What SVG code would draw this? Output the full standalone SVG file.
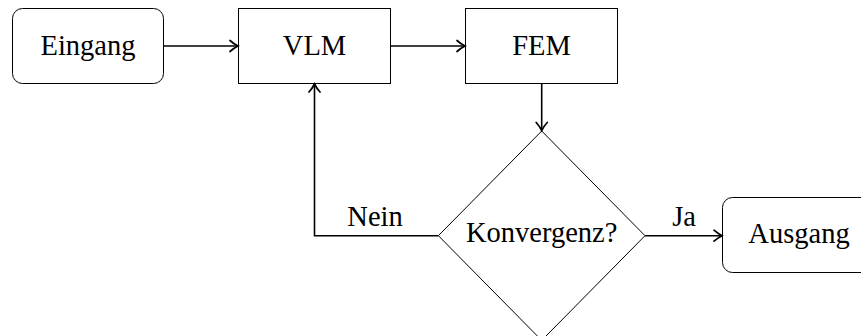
<svg xmlns="http://www.w3.org/2000/svg" width="861" height="336" viewBox="0 0 861 336">
<style>
.box{fill:#fff;stroke:#000;stroke-width:1}
.lbl{font-family:"Liberation Serif","Times New Roman",serif;font-size:28.5px;fill:#000;text-anchor:middle}
.edge{fill:none;stroke:#000;stroke-width:1.6;marker-end:url(#arr)}
</style>
<defs>
<marker id="arr" markerUnits="userSpaceOnUse" markerWidth="14" markerHeight="14" viewBox="-10 -7 12 14" refX="0" refY="0" orient="auto">
<path d="M -8,-5.5 C -5,-2.8 -2,-1 0,0 C -2,1 -5,2.8 -8,5.5" fill="none" stroke="#000" stroke-width="1.7" stroke-linecap="round"/>
</marker>
</defs>
<g id="eingang">
<rect class="box" x="12.5" y="8.5" width="151" height="75" rx="10" ry="10"/>
<text class="lbl" x="88" y="55">Eingang</text>
</g>
<g id="vlm">
<rect class="box" x="238.5" y="8.5" width="152" height="75"/>
<text class="lbl" x="314.5" y="55">VLM</text>
</g>
<g id="fem">
<rect class="box" x="465.5" y="8.5" width="152" height="75"/>
<text class="lbl" x="541.5" y="55">FEM</text>
</g>
<g id="konvergenz">
<polygon class="box" points="541.7,131 645,235.7 541.7,340.4 438.4,235.7"/>
<text class="lbl" x="541.7" y="242">Konvergenz?</text>
</g>
<g id="ausgang">
<rect class="box" x="722.5" y="197.5" width="151" height="75" rx="10" ry="10"/>
<text class="lbl" x="799" y="242.5">Ausgang</text>
</g>
<g id="connectors">
<path class="edge" d="M 164,46 L 238,46"/>
<path class="edge" d="M 391,46 L 465,46"/>
<path class="edge" d="M 541.7,84 L 541.7,130.5"/>
<path class="edge" d="M 438.4,235.7 L 314.5,235.7 L 314.5,84"/>
<path class="edge" d="M 645,235.7 L 722,235.7"/>
<text class="lbl" x="375" y="226">Nein</text>
<text class="lbl" x="684" y="226">Ja</text>
</g>
</svg>
